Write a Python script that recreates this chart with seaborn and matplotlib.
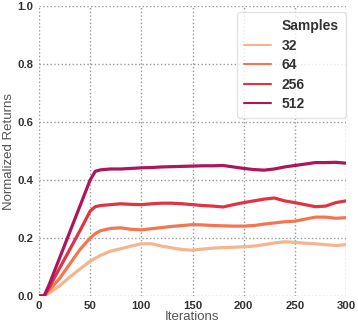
import matplotlib
matplotlib.use("Agg")
import matplotlib.pyplot as plt
import seaborn as sns
import pandas as pd
from matplotlib.lines import Line2D

iterations = [0, 5, 10, 20, 30, 40, 50, 55, 60, 70, 80, 90, 100, 110, 120, 130, 140, 150,
              160, 170, 180, 190, 200, 210, 220, 230, 240, 250, 260, 270, 280, 290, 300]

s32 = [0.0, 0.0, 0.01, 0.035, 0.065, 0.093, 0.120, 0.130, 0.140, 0.155, 0.163, 0.172, 0.180,
       0.180, 0.172, 0.166, 0.160, 0.158, 0.162, 0.165, 0.167, 0.168, 0.170, 0.172, 0.177,
       0.183, 0.187, 0.185, 0.182, 0.180, 0.177, 0.174, 0.177]
s64 = [0.0, 0.0, 0.02, 0.06, 0.11, 0.16, 0.200, 0.215, 0.225, 0.233, 0.235, 0.230, 0.228,
       0.232, 0.236, 0.240, 0.243, 0.246, 0.245, 0.243, 0.242, 0.241, 0.241, 0.243, 0.248,
       0.252, 0.256, 0.258, 0.265, 0.272, 0.272, 0.268, 0.270]
s256 = [0.0, 0.0, 0.03, 0.095, 0.16, 0.225, 0.293, 0.308, 0.312, 0.315, 0.318, 0.316, 0.315,
        0.318, 0.320, 0.320, 0.318, 0.315, 0.312, 0.310, 0.307, 0.315, 0.322, 0.328, 0.334,
        0.338, 0.328, 0.322, 0.315, 0.308, 0.310, 0.322, 0.328]
s512 = [0.0, 0.0, 0.04, 0.13, 0.22, 0.31, 0.400, 0.430, 0.435, 0.438, 0.438, 0.440, 0.442,
        0.443, 0.445, 0.446, 0.447, 0.448, 0.449, 0.449, 0.450, 0.445, 0.440, 0.436, 0.434,
        0.438, 0.445, 0.450, 0.455, 0.460, 0.460, 0.461, 0.458]

sample_labels = ["32", "64", "256", "512"]
y_ticks = [0.0, 0.2, 0.4, 0.6, 0.8, 1.0]
x_ticks = [0, 50, 100, 150, 200, 250, 300]

rows = []
for lab, vals in zip(sample_labels, [s32, s64, s256, s512]):
    for it, v in zip(iterations, vals):
        rows.append({"Iterations": it, "Normalized Returns": v, "Samples": lab})
df = pd.DataFrame(rows)

sns.set_style("white")
plt.rcParams["font.family"] = ["Liberation Sans", "DejaVu Sans"]

colors = ["#f6b48f", "#f37651", "#e13342", "#ad1759"]
palette = dict(zip(sample_labels, colors))

fig = plt.figure(figsize=(3.58, 3.26), dpi=100)
ax = fig.add_axes([39 / 358, 1 - 296 / 326, (346 - 39) / 358, (296 - 6) / 326])

sns.lineplot(data=df, x="Iterations", y="Normalized Returns", hue="Samples",
             hue_order=sample_labels, palette=palette, linewidth=2.3, ax=ax, legend=False)

ax.set_xlim(0, 300)
ax.set_ylim(0, 1.0)
ax.set_xticks(x_ticks)
ax.set_yticks(y_ticks)
ax.set_xticklabels([str(t) for t in x_ticks], fontweight="bold", fontsize=8.2, color="#333333")
ax.set_yticklabels([f"{t:.1f}" for t in y_ticks], fontweight="bold", fontsize=8.2, color="#333333")
ax.tick_params(axis="x", length=0, pad=3.5)
ax.tick_params(axis="y", length=0, pad=4)
ax.grid(True, linestyle=":", color="#999999", linewidth=1.0)
for sp in ax.spines.values():
    sp.set_visible(False)
ax.set_xlabel("Iterations", fontsize=9.5, color="#555555", labelpad=0)
ax.set_ylabel("Normalized Returns", fontsize=9.5, color="#555555", labelpad=2)

handles = [Line2D([], [], color="none")]
labels = ["Samples"]
for lab, c in zip(sample_labels, colors):
    handles.append(Line2D([], [], color=c, linewidth=1.5))
    labels.append(lab)
leg = ax.legend(handles, labels, loc="upper right", bbox_to_anchor=(1.0, 1 - 6 / 290),
                borderaxespad=0, prop={"weight": "bold", "size": 10}, frameon=True,
                framealpha=0.8, edgecolor="#dddddd", handlelength=1.95, borderpad=0.5,
                labelspacing=0.4)
for t in leg.get_texts():
    t.set_color("#333333")

fig.savefig("out.png", dpi=100)
